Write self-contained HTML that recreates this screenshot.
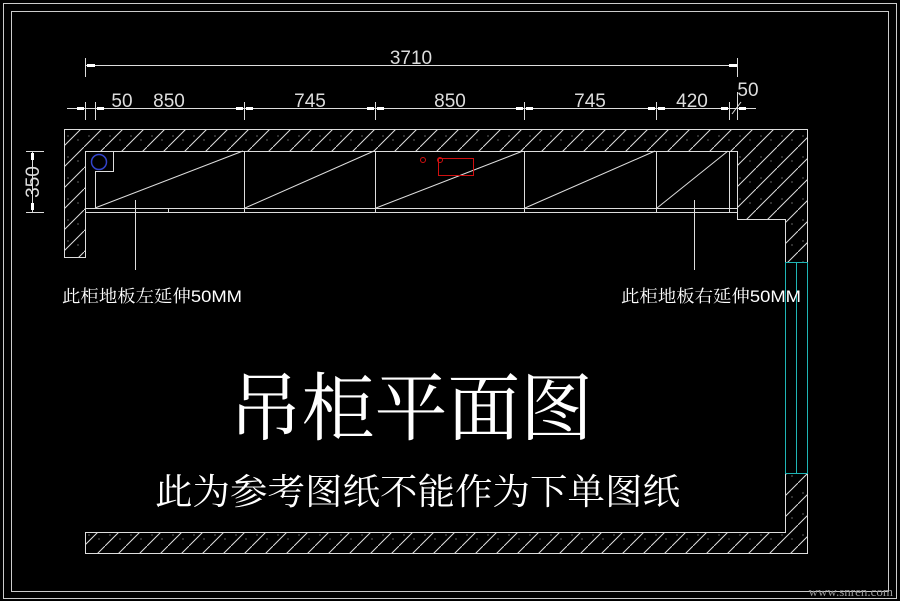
<!DOCTYPE html>
<html><head><meta charset="utf-8"><style>
html,body{margin:0;padding:0;background:#000;}
svg{display:block;}
text{font-family:"Liberation Sans","Noto Serif CJK SC","Noto Sans CJK SC",sans-serif;fill:#fff;}
</style></head><body>
<svg width="900" height="601" viewBox="0 0 900 601" xmlns="http://www.w3.org/2000/svg">
<defs>
<pattern id="h" patternUnits="userSpaceOnUse" width="21" height="21">
<line x1="0" y1="21" x2="21" y2="0" stroke="#ddd" stroke-width="1"/>
<circle cx="5" cy="10" r="0.6" fill="#aaa"/><circle cx="15" cy="14" r="0.6" fill="#aaa"/>
</pattern>
</defs>
<rect width="900" height="601" fill="#000"/>
<g fill="none" stroke="#ccc" stroke-width="1">
<rect x="3.5" y="3.5" width="893" height="595"/>
<rect x="11.5" y="11.5" width="877" height="580"/>
</g>
<path d="M64.5 129.5 H807.5 V262.5 H785.5 V219.5 H737.5 V151.5 H85.5 V257.5 H64.5 Z" fill="url(#h)" stroke="#ddd"/>
<path d="M785.5 473.5 H807.5 V553.5 H85.5 V532.5 H785.5 Z" fill="url(#h)" stroke="#ddd"/>
<g stroke="#1fb5b5" fill="none"><rect x="785.5" y="262.5" width="22" height="211"/><line x1="796.5" y1="262" x2="796.5" y2="473"/></g>
<g stroke="#ddd" fill="none" stroke-width="1">
<line x1="85" y1="208.5" x2="737" y2="208.5"/>
<line x1="85" y1="212.5" x2="737" y2="212.5"/>
<path d="M95.5 208 V171.5 H113.5 V151"/>
<line x1="168.5" y1="208" x2="168.5" y2="212"/>
<line x1="244.5" y1="151" x2="244.5" y2="212"/>
<line x1="375.5" y1="151" x2="375.5" y2="212"/>
<line x1="524.5" y1="151" x2="524.5" y2="212"/>
<line x1="656.5" y1="151" x2="656.5" y2="212"/>
<line x1="729.5" y1="151" x2="729.5" y2="212"/>
<line x1="95" y1="208" x2="243" y2="151"/>
<line x1="245" y1="208" x2="374" y2="151"/>
<line x1="376" y1="208" x2="523" y2="151"/>
<line x1="525" y1="208" x2="655" y2="151"/>
<line x1="657" y1="208" x2="728" y2="151"/>
<line x1="135.5" y1="200" x2="135.5" y2="270"/>
<line x1="694.5" y1="200" x2="694.5" y2="270"/>
</g>
<circle cx="99" cy="162" r="7.5" stroke="#3344cc" fill="none" stroke-width="1.5"/>
<g stroke="#d01010" fill="none"><circle cx="423" cy="160" r="2.5"/><circle cx="440" cy="160" r="2.5"/><rect x="438.5" y="158.5" width="35" height="17"/></g>
<g stroke="#ddd" stroke-width="1">
<line x1="85" y1="65.5" x2="737" y2="65.5"/>
<line x1="85.5" y1="58" x2="85.5" y2="77"/><line x1="737.5" y1="58" x2="737.5" y2="77"/>
<line x1="67" y1="108.5" x2="756" y2="108.5"/>
<line x1="85.5" y1="102" x2="85.5" y2="120"/><line x1="95.5" y1="102" x2="95.5" y2="120"/>
<line x1="244.5" y1="102" x2="244.5" y2="120"/><line x1="375.5" y1="102" x2="375.5" y2="120"/>
<line x1="524.5" y1="102" x2="524.5" y2="120"/><line x1="656.5" y1="102" x2="656.5" y2="120"/>
<line x1="729.5" y1="102" x2="729.5" y2="120"/><line x1="737.5" y1="92" x2="737.5" y2="120"/>
<line x1="732" y1="114" x2="741" y2="102"/>
<line x1="32.5" y1="151" x2="32.5" y2="212"/>
<line x1="26" y1="151.5" x2="44" y2="151.5"/><line x1="26" y1="212.5" x2="44" y2="212.5"/>
</g>
<g fill="#fff">
<rect x="87" y="64" width="8" height="3"/><rect x="729" y="64" width="8" height="3"/>
<rect x="77" y="107" width="7" height="3"/><rect x="97" y="107" width="7" height="3"/>
<rect x="236" y="107" width="7" height="3"/><rect x="246" y="107" width="7" height="3"/>
<rect x="367" y="107" width="7" height="3"/><rect x="377" y="107" width="7" height="3"/>
<rect x="516" y="107" width="7" height="3"/><rect x="526" y="107" width="7" height="3"/>
<rect x="648" y="107" width="7" height="3"/><rect x="658" y="107" width="7" height="3"/>
<rect x="721" y="107" width="7" height="3"/><rect x="739" y="107" width="7" height="3"/>
<rect x="31" y="153" width="3" height="7"/><rect x="31" y="203" width="3" height="7"/>
</g>
<g font-size="19">
<text x="411" y="64" text-anchor="middle" style="fill:#ddd">3710</text>
<text x="122" y="107" text-anchor="middle" style="fill:#ddd">50</text>
<text x="169" y="107" text-anchor="middle" style="fill:#ddd">850</text>
<text x="310" y="107" text-anchor="middle" style="fill:#ddd">745</text>
<text x="450" y="107" text-anchor="middle" style="fill:#ddd">850</text>
<text x="590" y="107" text-anchor="middle" style="fill:#ddd">745</text>
<text x="692" y="107" text-anchor="middle" style="fill:#ddd">420</text>
<text x="748" y="96" text-anchor="middle" style="fill:#ddd">50</text>
<text transform="translate(39,182) rotate(-90)" text-anchor="middle" style="fill:#ddd">350</text>
</g>
<text x="62" y="302" font-size="17" textLength="180" lengthAdjust="spacingAndGlyphs">此柜地板左延伸50MM</text>
<text x="621" y="302" font-size="17" textLength="180" lengthAdjust="spacingAndGlyphs">此柜地板右延伸50MM</text>
<text x="229" y="434" font-size="74" textLength="364" lengthAdjust="spacingAndGlyphs">吊柜平面图</text>
<text x="155" y="504" font-size="36" textLength="525" lengthAdjust="spacingAndGlyphs">此为参考图纸不能作为下单图纸</text>
<text x="893" y="596" font-size="13" text-anchor="end" style="fill:#999;font-family:'Liberation Serif',serif">www.snren.com</text>
</svg>
</body></html>
